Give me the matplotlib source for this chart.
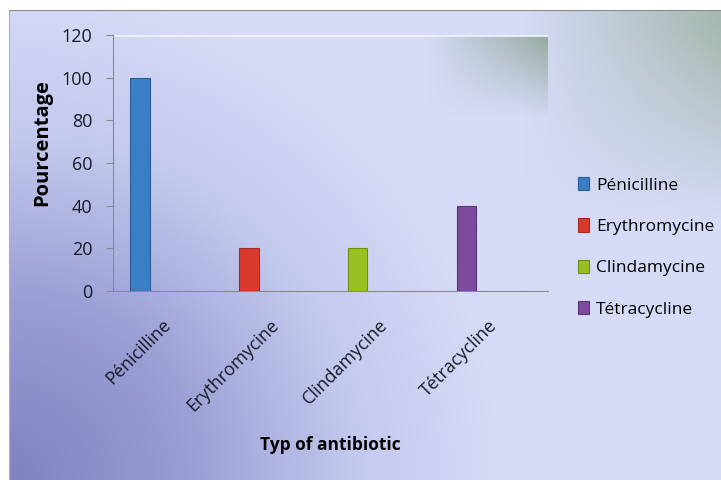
import matplotlib
matplotlib.use("Agg")
import matplotlib.pyplot as plt
import matplotlib.transforms as mtrans
import numpy as np
from matplotlib.colors import LinearSegmentedColormap

plt.rcParams['font.family'] = ['Open Sans', 'DejaVu Sans']

# Data
antibiotics = ["Pénicilline", "Erythromycine", "Clindamycine", "Tétracycline"]
percentages = [100, 20, 20, 40]
bar_colors = ["#3a7ec6", "#d93a2c", "#98c020", "#7c4b9e"]
edge_colors = ["#2a5e98", "#a52a20", "#6f8f14", "#5a3475"]
y_ticks = [0, 20, 40, 60, 80, 100, 120]

fig = plt.figure(figsize=(7.21, 4.8), dpi=100)
fig.patch.set_facecolor("white")

# background: dark lavender from the lower-left corner, pale elsewhere
bg = fig.add_axes([9 / 721, 0, 1 - 9 / 721, 1 - 10 / 480], zorder=0)
yy, xx = np.mgrid[0:1:240j, 0:1:360j]
d = np.sqrt((xx * 1.5) ** 2 + (yy * 1.0) ** 2)
t = np.clip(d / 1.05, 0, 1)
cmap = LinearSegmentedColormap.from_list(
    "bg", [(0, "#7f83c0"), (0.35, "#989dd3"), (0.7, "#c4c9ee"), (1, "#d6dbf7")])
bg.imshow(t, cmap=cmap, origin="lower", aspect="auto", extent=[0, 1, 0, 1])
# greenish tint in the top-right corner
g = np.clip((xx - 0.72) * 3.2, 0, 1) * np.clip((yy - 0.55) * 2.4, 0, 1)
green = np.zeros((240, 360, 4))
green[..., 0] = 0.56
green[..., 1] = 0.66
green[..., 2] = 0.55
green[..., 3] = g * 0.75
bg.imshow(green, origin="lower", aspect="auto", extent=[0, 1, 0, 1])
bg.set_xlim(0, 1)
bg.set_ylim(0, 1)
bg.set_xticks([])
bg.set_yticks([])
for s in bg.spines.values():
    s.set_visible(False)
bg.spines["top"].set_visible(True)
bg.spines["left"].set_visible(True)
bg.spines["top"].set_color("#8c8c8c")
bg.spines["left"].set_color("#b0b0c8")

ax = fig.add_axes([113 / 721, 1 - 291 / 480, 435 / 721, 256 / 480], zorder=1)
ax.patch.set_alpha(0)

# shadow in the top-right of the plot area
py, px = np.mgrid[0:1:120j, 0:1:200j]
sh = np.clip((px - 0.72) * 3.6, 0, 1) * np.clip((py - 0.68) * 3.2, 0, 1)
shade = np.zeros((120, 200, 4))
shade[..., 0] = 0.50
shade[..., 1] = 0.60
shade[..., 2] = 0.50
shade[..., 3] = sh * 0.7
ax.imshow(shade, origin="lower", aspect="auto", extent=[-0.5, 3.5, 0, 120], zorder=1)
# pale strip on top of the plot area
ax.axhline(120, color="#eef0fc", lw=2, zorder=1)

x = np.arange(len(antibiotics))
for i in range(len(antibiotics)):
    ax.bar(x[i] - 0.25, percentages[i], 0.18, color=bar_colors[i],
           edgecolor=edge_colors[i], linewidth=0.8, label=antibiotics[i], zorder=3)

ax.set_xlim(-0.5, 3.5)
ax.set_ylim(0, 120)
ax.set_yticks(y_ticks)
ax.set_yticklabels([str(v) for v in y_ticks], fontsize=13, color="#1a1a2a")
ax.set_xticks(x)
ax.set_xticklabels(antibiotics, rotation=45, ha="right", rotation_mode="anchor",
                   fontsize=13, color="#1a1a2a")
ax.tick_params(axis="x", length=0, pad=18)
ax.tick_params(axis="y", length=5, color="#8a8a8a", direction="out", pad=10)
shift = mtrans.ScaledTranslation(-6 / 100, 0, fig.dpi_scale_trans)
for lbl in ax.get_xticklabels():
    lbl.set_transform(lbl.get_transform() + shift)

for side in ["top", "right"]:
    ax.spines[side].set_visible(False)
ax.spines["left"].set_color("#8a8a8a")
ax.spines["bottom"].set_color("#8a8a8a")

ax.set_ylabel("Pourcentage", fontsize=14.5, fontweight="bold")
ax.yaxis.set_label_coords(-0.14, 0.58)
ax.set_xlabel("Typ of antibiotic", fontsize=12.5, fontweight="bold")
ax.xaxis.set_label_coords(0.5, -0.565)

ax.legend(loc="center left", bbox_to_anchor=(1.07, 0.17), frameon=False,
          fontsize=12.5, handlelength=0.6, handleheight=0.8, handletextpad=0.4,
          labelspacing=1.42, borderpad=0, borderaxespad=0)

fig.savefig("out.png", dpi=100)
